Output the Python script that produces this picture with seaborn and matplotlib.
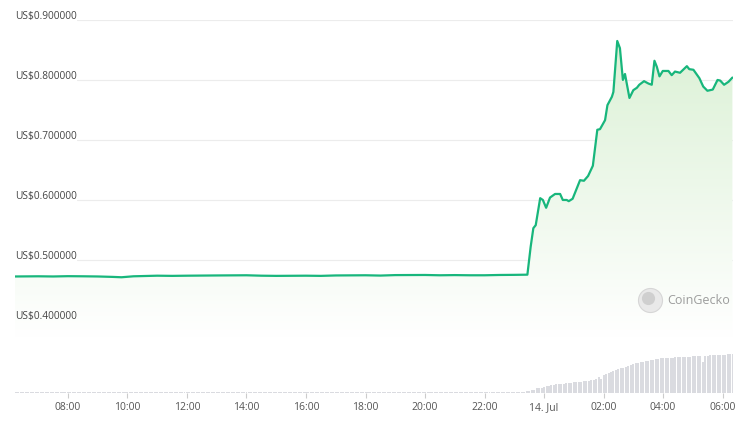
import numpy as np
import seaborn as sns
import matplotlib.pyplot as plt
from matplotlib.colors import LinearSegmentedColormap
from matplotlib import transforms

# price samples: hour of day (24 = 14 Jul 00:00) and price in US$
price_hours = [6.22, 7.0, 7.5, 8.0, 8.5, 9.0, 9.5, 9.8, 10.2, 11.0, 11.5, 12.0, 13.0, 14.0,
               14.5, 15.0, 16.0, 16.5, 17.0, 18.0, 18.5, 19.0, 20.0, 20.5, 21.0, 21.5, 22.0,
               22.5, 23.0, 23.44,
               23.55, 23.64, 23.72, 23.87, 23.96, 24.07, 24.20, 24.37, 24.54, 24.63, 24.76,
               24.83, 24.96, 25.21, 25.34, 25.48, 25.64, 25.79, 25.88, 26.05, 26.13, 26.28,
               26.33, 26.46, 26.55, 26.65, 26.72, 26.87, 27.00, 27.12, 27.20, 27.36, 27.51,
               27.62, 27.71, 27.79, 27.88, 27.99, 28.18, 28.29, 28.40, 28.57, 28.80, 28.88,
               29.02, 29.22, 29.35, 29.49, 29.67, 29.83, 29.92, 30.05, 30.20, 30.33]
prices = [0.4725, 0.4728, 0.4725, 0.4730, 0.4728, 0.4725, 0.4718, 0.4712, 0.4728, 0.4738,
          0.4735, 0.4738, 0.4742, 0.4745, 0.4738, 0.4735, 0.4738, 0.4735, 0.4742, 0.4745,
          0.4740, 0.4748, 0.4750, 0.4745, 0.4748, 0.4745, 0.4745, 0.4750, 0.4752, 0.4755,
          0.522, 0.553, 0.558, 0.603, 0.600, 0.587, 0.604, 0.610, 0.610, 0.600, 0.600,
          0.598, 0.602, 0.633, 0.632, 0.640, 0.657, 0.717, 0.718, 0.733, 0.758, 0.772,
          0.780, 0.865, 0.853, 0.800, 0.810, 0.770, 0.783, 0.787, 0.792, 0.798, 0.794,
          0.792, 0.832, 0.822, 0.806, 0.815, 0.815, 0.808, 0.814, 0.812, 0.823, 0.818,
          0.817, 0.803, 0.789, 0.782, 0.784, 0.800, 0.799, 0.792, 0.797, 0.804]

# 5-minute volume bars from 06:15 (13 Jul) to 06:20 (14 Jul), one row per hour
vol_start = 6.25
volumes = [
    1.6, 1.8, 1.5, 1.7, 1.8, 1.6, 1.7, 1.5, 1.8,                      # 06
    1.7, 1.6, 1.8, 1.7, 1.5, 1.8, 1.6, 1.7, 1.8, 1.6, 1.7, 1.5,       # 07
    1.8, 1.7, 1.6, 1.8, 1.7, 1.5, 1.8, 1.7, 1.6, 1.8, 1.7, 1.6,       # 08
    1.7, 1.8, 1.6, 1.7, 1.8, 1.7, 1.6, 1.5, 1.6, 1.5, 1.4, 1.5,       # 09
    1.4, 1.5, 1.4, 1.5, 1.3, 1.4, 1.5, 1.6, 1.5, 1.6, 1.5, 1.4,       # 10
    1.5, 1.4, 1.3, 1.4, 1.5, 1.6, 1.5, 1.4, 1.5, 1.6, 1.5, 1.6,       # 11
    1.5, 1.4, 1.3, 1.2, 1.3, 1.4, 1.5, 1.4, 1.6, 1.5, 1.4, 1.5,       # 12
    1.6, 1.5, 1.4, 1.5, 1.6, 1.5, 1.4, 1.3, 1.4, 1.5, 1.4, 1.6,       # 13
    1.5, 1.6, 1.7, 1.6, 1.5, 1.7, 1.6, 1.7, 1.8, 1.7, 1.6, 1.7,       # 14
    1.8, 1.7, 1.6, 1.8, 1.7, 1.8, 1.7, 1.6, 1.8, 1.7, 1.8, 1.7,       # 15
    1.8, 1.7, 1.8, 1.7, 1.6, 1.8, 1.7, 1.8, 1.7, 1.6, 1.7, 1.8,       # 16
    1.7, 1.8, 1.7, 1.6, 1.7, 1.8, 1.7, 1.8, 1.6, 1.7, 1.8, 1.7,       # 17
    1.6, 1.7, 1.6, 1.5, 1.6, 1.7, 1.6, 1.5, 1.6, 1.5, 1.6, 1.5,       # 18
    1.6, 1.5, 1.6, 1.7, 1.6, 1.5, 1.6, 1.7, 1.6, 1.5, 1.6, 1.5,       # 19
    1.6, 1.7, 1.6, 1.5, 1.6, 1.5, 1.6, 1.7, 1.6, 1.5, 1.4, 1.3,       # 20
    1.2, 1.1, 1.0, 1.1, 1.0, 1.1, 1.0, 1.1, 1.0, 1.1, 1.0, 1.0,       # 21
    1.0, 1.1, 1.0, 1.0, 1.1, 1.0, 1.0, 1.1, 1.0, 1.1, 1.0, 1.0,       # 22
    1.0, 1.1, 1.0, 1.1, 1.5, 2.0, 2.5, 3.0, 3.5, 5.0, 5.0, 5.0,       # 23
    6.5, 7.0, 7.5, 8.0, 8.5, 9.0, 9.0, 9.5, 9.5, 10.0, 10.0, 10.0,    # 00
    11.0, 11.0, 11.0, 11.5, 12.0, 12.0, 12.5, 13.0, 13.5, 14.0, 16.0, 14.0,   # 01
    18.0, 19.0, 20.0, 21.0, 22.0, 23.0, 24.0, 25.0, 25.5, 26.0, 27.0, 28.0,   # 02
    29.0, 30.0, 30.5, 31.0, 31.5, 32.0, 32.5, 33.0, 33.5, 34.0, 34.5, 35.0,   # 03
    35.0, 35.5, 35.5, 35.5, 35.5, 36.0, 36.0, 36.0, 36.5, 36.5, 36.5, 36.5,   # 04
    37.0, 37.0, 37.0, 37.0, 31.0, 37.0, 37.5, 38.0, 38.0, 38.0, 38.0, 38.0,   # 05
    38.5, 38.5, 39.0, 39.0, 39.0,                                     # 06
]

tick_hours = [8, 10, 12, 14, 16, 18, 20, 22, 24, 26, 28, 30]
tick_labels = ["08:00", "10:00", "12:00", "14:00", "16:00", "18:00", "20:00",
               "22:00", "14. Jul", "02:00", "04:00", "06:00"]
grid_prices = [0.9, 0.8, 0.7, 0.6, 0.5, 0.4]

sns.set_theme(style="white")
plt.rcParams['font.family'] = ['Open Sans', 'DejaVu Sans']

x_lim = (6.22, 30.35)
line_color = '#18b67c'

fig = plt.figure(figsize=(7.4, 4.22), dpi=100)

# volume panel
vax = fig.add_axes([15 / 740, 0.068, 718 / 740, 0.1019])
vol_hours = vol_start + np.arange(len(volumes)) * 5 / 60
vax.bar(vol_hours, volumes, width=4 / 60, color='#dadbe0', linewidth=0)
vax.set_xlim(*x_lim)
vax.set_ylim(0, 43)
vax.set_yticks([])
vax.set_xticks(tick_hours)
vax.set_xticklabels(tick_labels)
vax.tick_params(axis='x', length=3.6, width=0.8, color='#cccccc', pad=3,
                labelsize=7.5, labelcolor='#555555', bottom=True)
for s in vax.spines.values():
    s.set_visible(False)
vax.patch.set_alpha(0)

# price panel
ax = fig.add_axes([15 / 740, 0.1991, 718 / 740, 0.7536])
ax.patch.set_alpha(0)
ax.set_xlim(*x_lim)
ax.set_ylim(0.37, 0.9)

for g in grid_prices[:-1]:
    ax.axhline(g, xmin=0.086, xmax=1, color='#ececec', lw=0.8, zorder=0)
for g in grid_prices:
    off = transforms.offset_copy(ax.transData, fig=fig, x=0, y=1.0, units='points')
    ax.text(x_lim[0], g, f"US${g:.6f}", transform=off, ha='left', va='baseline',
            fontsize=7.3, color='#444444')

# gradient fill under the line
poly = ax.fill_between(price_hours, prices, 0.37, color='none', lw=0)
cmap = LinearSegmentedColormap.from_list('gfill', ['#ffffff', '#d9f0d3'])
grad = np.linspace(0, 1, 256).reshape(-1, 1)
im = ax.imshow(grad, extent=[x_lim[0], x_lim[1], 0.37, 0.9], origin='lower',
               aspect='auto', cmap=cmap, zorder=1)
im.set_clip_path(poly.get_paths()[0], transform=ax.transData)

sns.lineplot(x=price_hours, y=prices, ax=ax, color=line_color, lw=1.6, zorder=3)
ax.set_xticks([])
ax.set_yticks([])
ax.set_xlabel('')
ax.set_ylabel('')
for s in ax.spines.values():
    s.set_visible(False)

# watermark
ax.scatter([650 / 740], [122 / 422], s=300, color='#e9e9e9', edgecolor='#d6d6d6',
           lw=0.8, transform=fig.transFigure, zorder=4, clip_on=False)
ax.scatter([648 / 740], [124 / 422], s=90, color='#cfcfcf', lw=0,
           transform=fig.transFigure, zorder=5, clip_on=False)
fig.text(667 / 740, 122 / 422, "CoinGecko", ha='left', va='center',
         fontsize=9.0, color='#9c9c9c')

fig.savefig('out.png', dpi=100)
